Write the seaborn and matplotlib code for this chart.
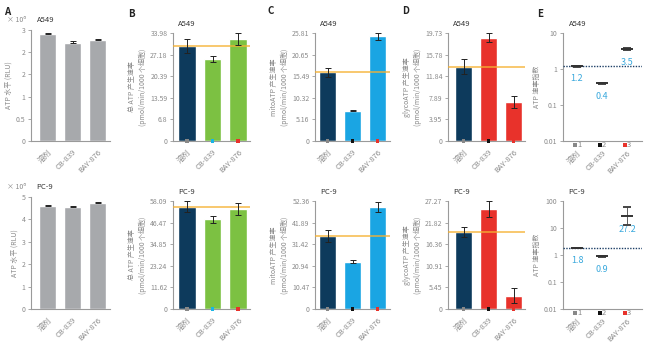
import matplotlib
matplotlib.use("Agg")
import numpy as np
import matplotlib.pyplot as plt
import seaborn as sns
from matplotlib.ticker import NullLocator

sns.set_theme(style="ticks")
plt.rcParams["font.family"] = ["Noto Sans CJK SC", "DejaVu Sans"]
plt.rcParams["axes.unicode_minus"] = False

# ---- data ----
treatments = ["溶剂", "CB-839", "BAY-876"]

atp_a549 = [2.88, 2.66, 2.73]
atp_a549_err = [0.04, 0.03, 0.03]
atp_pc9 = [4.62, 4.56, 4.74]
atp_pc9_err = [0.04, 0.04, 0.03]

total_a549 = [29.8, 25.8, 32.1]
total_a549_err = [2.2, 1.0, 1.8]
total_pc9 = [55.0, 48.2, 53.8]
total_pc9_err = [3.0, 1.9, 3.0]

mito_a549 = [16.4, 7.25, 25.0]
mito_a549_err = [1.0, 0.15, 0.8]
mito_pc9 = [35.4, 22.9, 49.6]
mito_pc9_err = [2.7, 0.8, 2.4]

glyco_a549 = [13.6, 18.9, 7.1]
glyco_a549_err = [1.4, 0.75, 1.05]
glyco_pc9 = [19.5, 25.3, 3.4]
glyco_pc9_err = [1.3, 2.0, 1.8]

index_a549 = [1.2, 0.4, 3.5]
index_a549_lo = [0.03, 0.02, 0.2]
index_a549_hi = [0.03, 0.02, 0.25]
index_pc9 = [1.8, 0.9, 27.2]
index_pc9_lo = [0.05, 0.03, 14.6]
index_pc9_hi = [0.05, 0.03, 33.0]

ticks_atp_a549 = [0, 0.6, 1.2, 1.8, 2.4, 3.0]
labels_atp_a549 = ["0", "0.5", "1", "2", "2", "3"]
ticks_atp_pc9 = [0, 1, 2, 3, 4, 5]
ticks_total_a549 = [0, 6.8, 13.59, 20.39, 27.18, 33.98]
ticks_total_pc9 = [0, 11.62, 23.24, 34.85, 46.47, 58.09]
ticks_mito_a549 = [0, 5.16, 10.32, 15.49, 20.65, 25.81]
ticks_mito_pc9 = [0, 10.47, 20.94, 31.42, 41.89, 52.36]
ticks_glyco_a549 = [0, 3.95, 7.89, 11.84, 15.78, 19.73]
ticks_glyco_pc9 = [0, 5.45, 10.91, 16.36, 21.82, 27.27]

# ---- colours ----
navy = "#0d3a5c"
green = "#7cc142"
sky = "#1aa5e3"
red = "#e8322b"
grey_bar = "#a7a9ac"
orange = "#f5b133"
txt = "#8a8a8a"
idx_blue = "#3aa9dd"
sq_grey = "#888888"

fig = plt.figure(figsize=(6.5, 3.5), dpi=100)


def px(l, t, r, b):
    return [l / 650, 1 - b / 350, (r - l) / 650, (b - t) / 350]


def style(ax):
    sns.despine(ax=ax)
    for s in ["left", "bottom"]:
        ax.spines[s].set_color("#9a9a9a")
        ax.spines[s].set_linewidth(0.8)
    ax.tick_params(axis="y", length=2.5, width=0.6, color="#9a9a9a",
                   labelsize=5, labelcolor=txt, pad=1.5)
    ax.tick_params(axis="x", length=0, labelsize=5.5, labelcolor=txt, pad=5)
    ax.set_xlabel("")


def xlabels(ax):
    ax.set_xticks(range(len(treatments)))
    ax.set_xticklabels(treatments, rotation=45, ha="right",
                       rotation_mode="anchor")


def title(ax, s, x=0.07, y=1.05):
    ax.text(x, y, s, transform=ax.transAxes, fontsize=5.5, color="#333333",
            ha="left", va="bottom")


def bar_panel(ax, vals, errs, colors, ticks, ticklabels, ylabel, name,
              xlim, width, ref=None, squares=None, only_up=False):
    sns.barplot(x=treatments, y=vals, hue=treatments, palette=colors,
                legend=False, width=width, saturation=1, errorbar=None,
                ax=ax, zorder=2)
    yerr = [[0] * len(errs), errs] if only_up else errs
    ax.errorbar(range(len(vals)), vals, yerr=yerr, fmt="none",
                ecolor="#222222", elinewidth=0.7, capsize=2.5,
                capthick=0.7, zorder=4)
    if ref is not None:
        ax.axhline(ref, color=orange, lw=1.1, alpha=0.9, zorder=3)
    ax.set_ylim(0, ticks[-1])
    ax.set_yticks(ticks)
    ax.set_yticklabels(ticklabels if ticklabels else [f"{t:g}" for t in ticks])
    ax.set_xlim(*xlim)
    style(ax)
    xlabels(ax)
    ax.set_ylabel(ylabel, fontsize=5, color=txt, labelpad=2,
                  linespacing=1.4)
    title(ax, name)
    if squares is not None:
        ax.scatter(range(len(vals)), [0] * len(vals), marker="s", s=5,
                   c=squares, clip_on=False, zorder=6, linewidths=0)


def index_panel(ax, vals, lo, hi, ticks, name, xlim):
    ax.set_yscale("log")
    ax.errorbar(range(len(vals)), vals, yerr=[lo, hi], fmt="_",
                color="#333333", ms=9, mew=1.4, ecolor="#444444",
                elinewidth=0.6, capsize=3, capthick=0.6, zorder=4)
    ax.axhline(vals[0], color="#1d3f66", lw=1.0, ls=(0, (1, 1)), zorder=3)
    for i, v in enumerate(vals):
        ax.annotate(f"{v:g}", (i, v), xytext=(0, -6), textcoords="offset points",
                    ha="center", va="top", fontsize=6.5, color=idx_blue)
    ax.set_ylim(ticks[0], ticks[-1])
    ax.set_yticks(ticks)
    ax.set_yticklabels([f"{t:g}" for t in ticks])
    ax.yaxis.set_minor_locator(NullLocator())
    ax.set_xlim(*xlim)
    style(ax)
    xlabels(ax)
    ax.tick_params(axis="x", pad=6)
    ax.set_ylabel("ATP 速率指数", fontsize=5, color=txt, labelpad=2)
    title(ax, name)
    tr = ax.get_xaxis_transform()
    for i, c in enumerate(["#888888", "#111111", red]):
        ax.scatter([i - 0.08], [-0.035], marker="s", s=5, c=[c],
                   transform=tr, clip_on=False, zorder=6, linewidths=0)
        ax.text(i + 0.0, -0.035, str(i + 1), transform=tr, fontsize=5.5,
                color=txt, ha="left", va="center")


sq_b = [sq_grey, "#19b5e5", red]
sq_cd = [sq_grey, "#111111", red]
ylab_total = "总 ATP 产生速率\n(pmol/min/1000 个细胞)"
ylab_mito = "mitoATP 产生速率\n(pmol/min/1000 个细胞)"
ylab_glyco = "glycoATP 产生速率\n(pmol/min/1000 个细胞)"

rows = [
    ("A549", 33, 141, 30, atp_a549, atp_a549_err, ticks_atp_a549, labels_atp_a549,
     total_a549, total_a549_err, ticks_total_a549,
     mito_a549, mito_a549_err, ticks_mito_a549,
     glyco_a549, glyco_a549_err, ticks_glyco_a549,
     index_a549, index_a549_lo, index_a549_hi, [0.01, 0.1, 1, 10]),
    ("PC-9", 201, 309, 197, atp_pc9, atp_pc9_err, ticks_atp_pc9, None,
     total_pc9, total_pc9_err, ticks_total_pc9,
     mito_pc9, mito_pc9_err, ticks_mito_pc9,
     glyco_pc9, glyco_pc9_err, ticks_glyco_pc9,
     index_pc9, index_pc9_lo, index_pc9_hi, [0.01, 0.1, 1, 10, 100]),
]

for (name, top, bot, atop, atp, atp_e, t_atp, l_atp, tot, tot_e, t_tot,
     mit, mit_e, t_mit, gly, gly_e, t_gly, idx, idx_lo, idx_hi, t_idx) in rows:
    ax = fig.add_axes(px(31, atop, 110, bot))
    bar_panel(ax, atp, atp_e, [grey_bar] * 3, t_atp, l_atp, "ATP 水平 (RLU)",
              name, (-0.66, 2.5), 0.68, only_up=True)
    ax.text(-0.3, 1.05, "× 10⁶", transform=ax.transAxes, fontsize=5,
            color=txt, ha="left", va="bottom")

    ax = fig.add_axes(px(173, top, 250, bot))
    bar_panel(ax, tot, tot_e, [navy, green, green], t_tot, None, ylab_total,
              name, (-0.55, 2.47), 0.7, ref=tot[0], squares=sq_b)

    ax = fig.add_axes(px(315, top, 390, bot))
    bar_panel(ax, mit, mit_e, [navy, sky, sky], t_mit, None, ylab_mito,
              name, (-0.5, 2.5), 0.68, ref=mit[0] + 0.2, squares=sq_cd)

    ax = fig.add_axes(px(448, top, 525, bot))
    bar_panel(ax, gly, gly_e, [navy, red, red], t_gly, None, ylab_glyco,
              name, (-0.62, 2.46), 0.68, ref=gly[0], squares=sq_cd)

    ax = fig.add_axes(px(563, top, 642, bot))
    index_panel(ax, idx, idx_lo, idx_hi, t_idx, name, (-0.56, 2.6))

for letter, x, y in [("A", 4, 12), ("B", 128, 14), ("C", 268, 11),
                     ("D", 402, 11), ("E", 537, 14)]:
    fig.text(x / 650, 1 - y / 350, letter, fontsize=7, fontweight="bold",
             color="#222222", ha="left", va="center")

fig.savefig("out.png", dpi=100)
